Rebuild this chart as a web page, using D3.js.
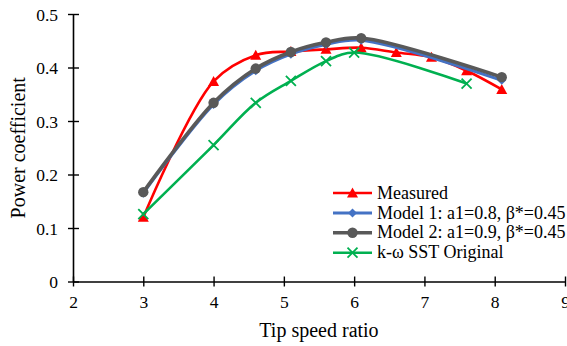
<!DOCTYPE html>
<html>
<head>
<meta charset="utf-8">
<script src="https://cdn.jsdelivr.net/npm/d3@7"></script>
<style>
  html, body { margin: 0; padding: 0; background: #fff; }
  svg { display: block; }
  text { font-family: "Liberation Serif", "Times New Roman", serif; fill: #000; }
</style>
</head>
<body>
<svg id="chart" width="567" height="346"></svg>
<script>
// Power coefficient versus tip speed ratio
const xTicks = [2, 3, 4, 5, 6, 7, 8, 9];
const yTicks = [0, 0.1, 0.2, 0.3, 0.4, 0.5];
const yTickLabels = ["0", "0.1", "0.2", "0.3", "0.4", "0.5"];

const measuredTSR = [3, 4, 4.6, 5.1, 5.6, 6.1, 6.6, 7.1, 7.6, 8.1];
const measuredCp  = [0.12, 0.374, 0.423, 0.43, 0.434, 0.437, 0.428, 0.419, 0.394, 0.359];

const model1TSR = [3, 4, 4.6, 5.1, 5.6, 6.1, 8.1];
const model1Cp  = [0.165, 0.331, 0.394, 0.425, 0.443, 0.451, 0.376];

const model2TSR = [3, 4, 4.6, 5.1, 5.6, 6.1, 8.1];
const model2Cp  = [0.167, 0.334, 0.398, 0.429, 0.447, 0.455, 0.382];

const sstTSR = [3, 4, 4.6, 5.1, 5.6, 6.0, 7.6];
const sstCp  = [0.126, 0.255, 0.334, 0.375, 0.412, 0.428, 0.37];

const seriesNames = ["Measured", "Model 1: a1=0.8, \u03B2*=0.45", "Model 2: a1=0.9, \u03B2*=0.45", "k-\u03C9 SST Original"];

const series = [
  { name: seriesNames[0], xs: measuredTSR, ys: measuredCp, color: "#FF0000", width: 2.6, marker: "triangle" },
  { name: seriesNames[1], xs: model1TSR, ys: model1Cp, color: "#4472C4", width: 3, marker: "diamond" },
  { name: seriesNames[2], xs: model2TSR, ys: model2Cp, color: "#595959", width: 3.6, marker: "circle" },
  { name: seriesNames[3], xs: sstTSR, ys: sstCp, color: "#00B050", width: 2.6, marker: "cross" }
];

const svg = d3.select("#chart");
const x = d3.scaleLinear().domain([2, 9]).range([73, 565]);
const y = d3.scaleLinear().domain([0, 0.5]).range([281.5, 14]);

// Axes
const xAxis = svg.append("g").attr("transform", `translate(0,${y(0)})`)
  .call(d3.axisBottom(x).tickValues(xTicks).tickFormat(d3.format("d")).tickSizeOuter(0).tickSizeInner(5));
const yAxis = svg.append("g").attr("transform", `translate(${x(2)},0)`)
  .call(d3.axisLeft(y).tickValues(yTicks).tickFormat((d, i) => yTickLabels[i]).tickSizeOuter(0).tickSizeInner(5));

[xAxis, yAxis].forEach(g => {
  g.attr("font-family", null).attr("font-size", null);
  g.select(".domain").attr("stroke", "#000").attr("stroke-width", 1.6);
  g.selectAll(".tick line").attr("stroke", "#000").attr("stroke-width", 1.4);
  g.selectAll(".tick text").style("font-family", "Liberation Serif").style("font-size", "17.5px").attr("fill", "#000");
});
xAxis.selectAll(".tick line").attr("y1", -5).attr("y2", 5);
xAxis.selectAll(".tick text").attr("y", 14).attr("dy", "0.71em");
yAxis.selectAll(".tick line").attr("x1", -5).attr("x2", 6);
yAxis.selectAll(".tick text").attr("x", -15).attr("dy", "0.35em");

// Axis titles
svg.append("text").attr("x", x(5.5)).attr("y", 337)
  .attr("text-anchor", "middle").style("font-size", "20px").text("Tip speed ratio");
svg.append("text").attr("transform", `translate(25,${(y(0) + y(0.5)) / 2}) rotate(-90)`)
  .attr("text-anchor", "middle").style("font-size", "20px").text("Power coefficient");

// Marker shapes
function drawMarker(g, type, cx, cy, color) {
  if (type === "triangle") {
    g.append("path").attr("d", `M${cx},${cy - 5.5}L${cx + 5.5},${cy + 4.5}L${cx - 5.5},${cy + 4.5}Z`).attr("fill", color);
  } else if (type === "diamond") {
    g.append("path").attr("d", `M${cx},${cy - 4.5}L${cx + 4.5},${cy}L${cx},${cy + 4.5}L${cx - 4.5},${cy}Z`).attr("fill", color);
  } else if (type === "circle") {
    g.append("circle").attr("cx", cx).attr("cy", cy).attr("r", 5.2).attr("fill", color);
  } else if (type === "cross") {
    const s = 5;
    g.append("path").attr("d", `M${cx - s},${cy - s}L${cx + s},${cy + s}M${cx - s},${cy + s}L${cx + s},${cy - s}`)
      .attr("stroke", color).attr("stroke-width", 1.8).attr("fill", "none");
  }
}

// Series lines and markers
const line = d3.line().x(d => x(d[0])).y(d => y(d[1])).curve(d3.curveCatmullRom.alpha(0.5));
series.forEach(s => {
  const pts = s.xs.map((v, i) => [v, s.ys[i]]);
  const g = svg.append("g");
  g.append("path").datum(pts).attr("d", line).attr("fill", "none")
    .attr("stroke", s.color).attr("stroke-width", s.width).attr("stroke-linejoin", "round").attr("stroke-linecap", "round");
  pts.forEach(p => drawMarker(g, s.marker, x(p[0]), y(p[1]), s.color));
});

// Legend
const legend = svg.append("g");
series.forEach((s, i) => {
  const cy = 193 + i * 19.9;
  legend.append("line").attr("x1", 333).attr("x2", 372).attr("y1", cy).attr("y2", cy)
    .attr("stroke", s.color).attr("stroke-width", s.width);
  drawMarker(legend, s.marker, 352.5, cy, s.color);
  legend.append("text").attr("x", 377).attr("y", cy + 5.6).style("font-size", "18px").text(s.name);
});
</script>
</body>
</html>
